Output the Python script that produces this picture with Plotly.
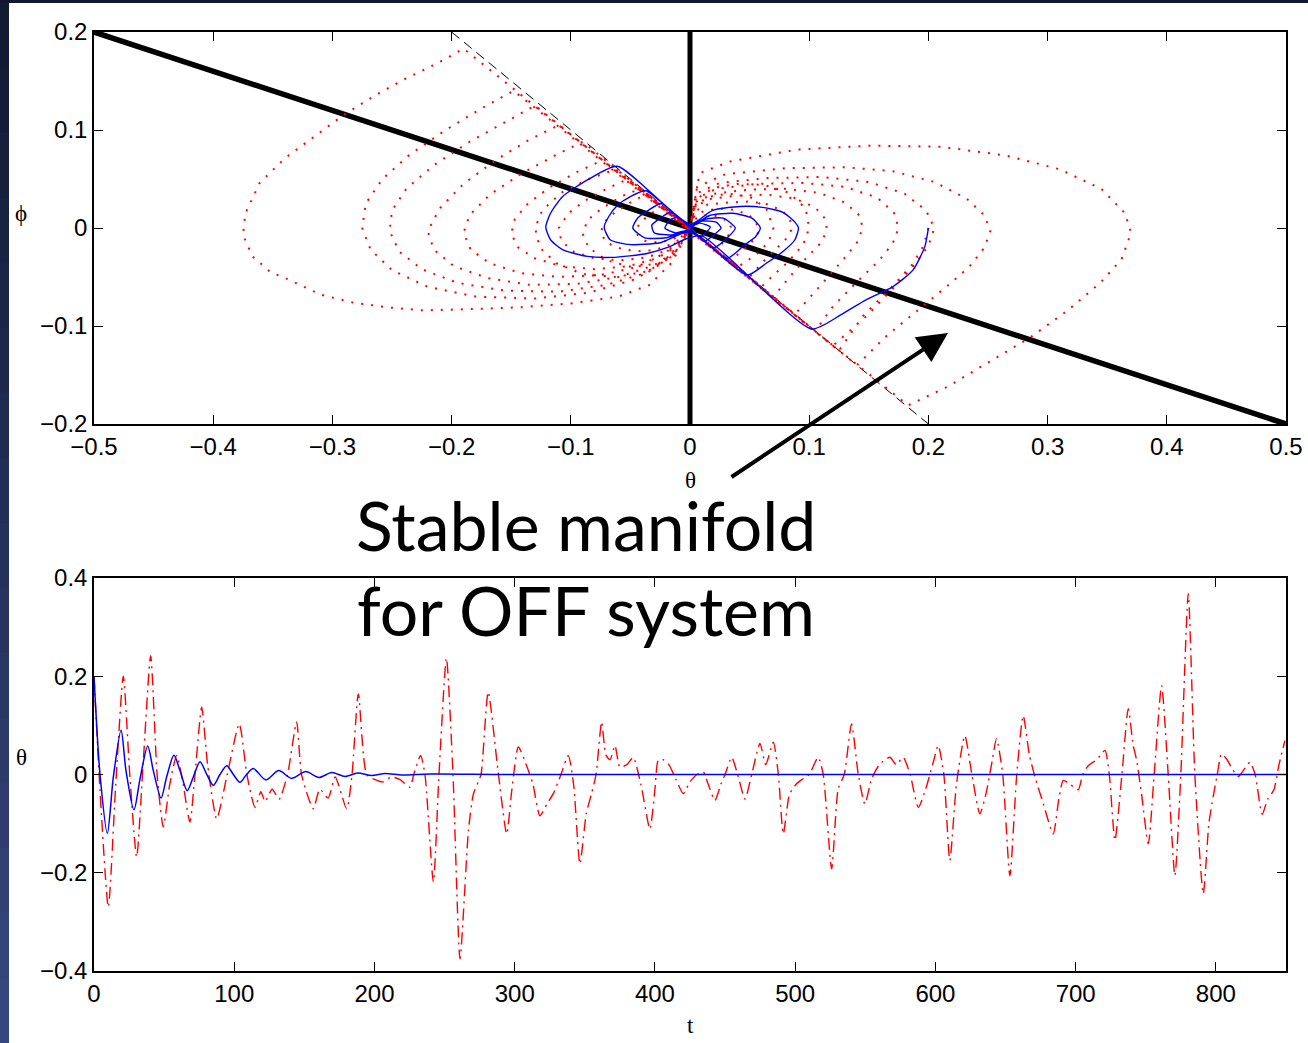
import plotly.graph_objects as go

# ---------------- top panel: phase plane ----------------
manifold_theta = [-0.5, 0.5]
manifold_phi = [0.2, -0.2]
vert_theta = [0.0, 0.0]
vert_phi = [-0.2, 0.2]
switch_theta = [-0.2, 0.2]
switch_phi = [0.2, -0.2]

# red (dotted) trajectory, read loop by loop
red_start_t = [0.2, 0.196, 0.186, 0.168, 0.145, 0.125]
red_start_p = [0.0, -0.018, -0.038, -0.062, -0.09, -0.125]
LA_t = [-0.19, -0.212, -0.241, -0.266, -0.291, -0.316, -0.34, -0.361, -0.373, -0.375, -0.367, -0.352, -0.336, -0.31, -0.283, -0.254, -0.224, -0.19, -0.143, -0.1, -0.06, -0.034, -0.015, 0.0]
LA_p = [0.183, 0.168, 0.151, 0.134, 0.115, 0.093, 0.071, 0.046, 0.015, -0.007, -0.029, -0.045, -0.053, -0.068, -0.076, -0.081, -0.084, -0.083, -0.081, -0.077, -0.07, -0.058, -0.035, 0.0]
RA_t = [0.0, 0.008, 0.034, 0.09, 0.15, 0.21, 0.265, 0.31, 0.345, 0.365, 0.37, 0.362, 0.345, 0.317, 0.285, 0.25, 0.216, 0.183]
RA_p = [0.0, 0.056, 0.068, 0.08, 0.084, 0.083, 0.074, 0.06, 0.04, 0.015, -0.005, -0.032, -0.055, -0.084, -0.112, -0.137, -0.162, -0.181]
LB_t = [-0.148, -0.175, -0.205, -0.235, -0.258, -0.272, -0.275, -0.268, -0.25, -0.22, -0.18, -0.13, -0.085, -0.045, -0.018, 0.0]
LB_p = [0.14, 0.122, 0.1, 0.075, 0.05, 0.025, 0.0, -0.022, -0.043, -0.06, -0.07, -0.072, -0.066, -0.052, -0.03, 0.0]
RB_t = [0.0, 0.006, 0.03, 0.08, 0.13, 0.17, 0.205, 0.232, 0.247, 0.252, 0.247, 0.234, 0.215, 0.19, 0.165, 0.14]
RB_p = [0.0, 0.042, 0.055, 0.061, 0.062, 0.058, 0.047, 0.03, 0.013, -0.003, -0.02, -0.04, -0.06, -0.085, -0.11, -0.14]
LC_t = [-0.13, -0.155, -0.185, -0.215, -0.238, -0.25, -0.252, -0.244, -0.225, -0.195, -0.155, -0.11, -0.07, -0.035, -0.012, 0.0]
LC_p = [0.125, 0.108, 0.088, 0.064, 0.04, 0.018, -0.003, -0.024, -0.042, -0.056, -0.064, -0.065, -0.058, -0.045, -0.026, 0.0]
RC_t = [0.0, 0.005, 0.025, 0.065, 0.11, 0.15, 0.18, 0.198, 0.205, 0.2, 0.188, 0.17, 0.148, 0.12]
RC_p = [0.0, 0.035, 0.046, 0.051, 0.052, 0.047, 0.035, 0.018, 0.0, -0.018, -0.038, -0.062, -0.09, -0.12]
LD_t = [-0.11, -0.135, -0.162, -0.19, -0.21, -0.22, -0.215, -0.198, -0.17, -0.135, -0.095, -0.06, -0.03, -0.01, 0.0]
LD_p = [0.105, 0.09, 0.07, 0.045, 0.02, -0.003, -0.022, -0.039, -0.051, -0.058, -0.057, -0.05, -0.038, -0.022, 0.0]
RD_t = [0.0, 0.005, 0.022, 0.055, 0.095, 0.13, 0.157, 0.171, 0.175, 0.17, 0.158, 0.14, 0.12, 0.105]
RD_p = [0.0, 0.03, 0.04, 0.045, 0.046, 0.042, 0.031, 0.016, 0.0, -0.016, -0.034, -0.055, -0.08, -0.105]
LE_t = [-0.09, -0.115, -0.142, -0.168, -0.185, -0.19, -0.184, -0.168, -0.142, -0.11, -0.075, -0.045, -0.02, 0.0]
LE_p = [0.088, 0.073, 0.055, 0.034, 0.013, -0.005, -0.022, -0.036, -0.046, -0.05, -0.048, -0.04, -0.025, 0.0]
RE_t = [0.0, 0.004, 0.02, 0.048, 0.08, 0.108, 0.13, 0.142, 0.145, 0.14, 0.128, 0.11, 0.088]
RE_p = [0.0, 0.026, 0.035, 0.039, 0.04, 0.036, 0.026, 0.013, 0.0, -0.015, -0.033, -0.058, -0.088]
LF_t = [-0.072, -0.095, -0.117, -0.136, -0.147, -0.15, -0.144, -0.13, -0.108, -0.08, -0.052, -0.028, -0.01, 0.0]
LF_p = [0.07, 0.057, 0.042, 0.025, 0.009, -0.006, -0.02, -0.031, -0.039, -0.042, -0.039, -0.031, -0.018, 0.0]
RF_t = [0.0, 0.004, 0.018, 0.04, 0.065, 0.088, 0.105, 0.113, 0.115, 0.11, 0.098, 0.085, 0.07]
RF_p = [0.0, 0.022, 0.03, 0.033, 0.034, 0.03, 0.021, 0.01, -0.002, -0.015, -0.03, -0.048, -0.07]
LJ_t = [-0.062, -0.085, -0.108, -0.124, -0.13, -0.126, -0.112, -0.09, -0.062, -0.035, -0.014, 0.0]
LJ_p = [0.06, 0.05, 0.036, 0.018, 0.0, -0.02, -0.036, -0.047, -0.05, -0.044, -0.028, 0.0]
RJ_t = [0.0, 0.006, 0.02, 0.04, 0.062, 0.083, 0.097, 0.1, 0.095, 0.082, 0.07, 0.06]
RJ_p = [0.0, 0.03, 0.041, 0.045, 0.044, 0.036, 0.02, 0.0, -0.017, -0.035, -0.048, -0.06]
LG_t = [-0.052, -0.07, -0.088, -0.102, -0.11, -0.108, -0.098, -0.08, -0.058, -0.036, -0.018, -0.006, 0.0]
LG_p = [0.05, 0.04, 0.028, 0.015, 0.0, -0.013, -0.024, -0.031, -0.033, -0.03, -0.022, -0.012, 0.0]
RG_t = [0.0, 0.004, 0.015, 0.032, 0.05, 0.066, 0.078, 0.084, 0.085, 0.08, 0.07, 0.06, 0.05]
RG_p = [0.0, 0.017, 0.024, 0.026, 0.027, 0.024, 0.017, 0.008, -0.002, -0.012, -0.024, -0.036, -0.05]
LK_t = [-0.042, -0.058, -0.074, -0.086, -0.09, -0.085, -0.07, -0.048, -0.026, -0.01, 0.0]
LK_p = [0.04, 0.032, 0.02, 0.008, -0.006, -0.02, -0.033, -0.04, -0.036, -0.022, 0.0]
RK_t = [0.0, 0.005, 0.016, 0.032, 0.05, 0.064, 0.07, 0.066, 0.056, 0.046, 0.04]
RK_p = [0.0, 0.024, 0.032, 0.035, 0.032, 0.02, 0.0, -0.014, -0.027, -0.035, -0.04]
LH_t = [-0.036, -0.05, -0.063, -0.072, -0.075, -0.07, -0.056, -0.038, -0.022, -0.009, 0.0]
LH_p = [0.035, 0.026, 0.016, 0.006, -0.005, -0.015, -0.022, -0.024, -0.02, -0.012, 0.0]
RH_t = [0.0, 0.004, 0.013, 0.026, 0.04, 0.052, 0.058, 0.056, 0.048, 0.04, 0.035]
RH_p = [0.0, 0.013, 0.018, 0.02, 0.018, 0.011, 0.0, -0.009, -0.019, -0.027, -0.035]
LI_t = [-0.022, -0.034, -0.043, -0.045, -0.038, -0.025, -0.012, 0.0]
LI_p = [0.022, 0.014, 0.004, -0.006, -0.013, -0.015, -0.01, 0.0]
RI_t = [0.0, 0.004, 0.012, 0.024, 0.033, 0.035, 0.03, 0.022]
RI_p = [0.0, 0.009, 0.013, 0.012, 0.006, -0.002, -0.012, -0.022]

red_loops_t = [red_start_t, LA_t, RA_t, LB_t, RB_t, LC_t, RC_t, LD_t, RD_t, LE_t, RE_t, LF_t, RF_t,
               LJ_t, RJ_t, LG_t, RG_t, LK_t, RK_t, LH_t, RH_t, LI_t, RI_t]
red_loops_p = [red_start_p, LA_p, RA_p, LB_p, RB_p, LC_p, RC_p, LD_p, RD_p, LE_p, RE_p, LF_p, RF_p,
               LJ_p, RJ_p, LG_p, RG_p, LK_p, RK_p, LH_p, RH_p, LI_p, RI_p]
red_theta = [v for seg in red_loops_t for v in seg]
red_phi = [v for seg in red_loops_p for v in seg]

# blue (solid) trajectory
blue_theta = [0.2, 0.197, 0.187, 0.170, 0.148, 0.126, 0.102,
              0.01, -0.003, -0.017, -0.036, -0.065, -0.086, -0.107, -0.117, -0.121, -0.117, -0.107, -0.086, -0.061,
              0.0, 0.019, 0.042, 0.061, 0.078, 0.088, 0.091, 0.088, 0.078, 0.064, 0.048,
              0.0, -0.025, -0.05, -0.067, -0.072, -0.068, -0.061, -0.05, -0.037,
              0.0, 0.017, 0.036, 0.052, 0.059, 0.055, 0.046, 0.031,
              0.0, -0.02, -0.038, -0.048, -0.044, -0.035, -0.024,
              0.0, 0.013, 0.028, 0.038, 0.033, 0.02,
              0.0, -0.015, -0.03, -0.032, -0.025, -0.016,
              0.0, 0.01, 0.022, 0.026, 0.02, 0.013,
              0.0, -0.012, -0.021, -0.017, -0.01,
              0.0, 0.008, 0.017, 0.012, 0.008, 0.0]
blue_phi = [0.0, -0.019, -0.043, -0.060, -0.073, -0.089, -0.103,
            -0.008, -0.011, -0.019, -0.026, -0.03, -0.029, -0.022, -0.012, 0.001, 0.015, 0.032, 0.049, 0.063,
            0.004, 0.018, 0.022, 0.021, 0.016, 0.006, 0.0, -0.012, -0.024, -0.036, -0.048,
            -0.004, -0.015, -0.017, -0.012, 0.001, 0.012, 0.023, 0.032, 0.038,
            0.003, 0.013, 0.015, 0.01, 0.0, -0.009, -0.017, -0.031,
            -0.003, -0.01, -0.01, 0.0, 0.01, 0.018, 0.025,
            0.002, 0.009, 0.01, 0.0, -0.008, -0.02,
            -0.002, -0.007, -0.005, 0.003, 0.01, 0.016,
            0.002, 0.007, 0.006, 0.0, -0.007, -0.013,
            -0.002, -0.005, 0.0, 0.008, 0.011,
            0.001, 0.005, 0.001, -0.006, -0.009, 0.0]

# ---------------- bottom panel: time series ----------------
blue_t = [0, 4.3, 9.5, 13.8, 19.3, 22.8, 28.5, 32.8, 38.3, 42.3, 47.8, 51.8, 57, 61.3, 66.5, 70.8, 75.6, 80.3,
          85.1, 89.8, 94.6, 99.4, 104.1, 108.8, 113.6, 122.6, 131.7, 141, 151, 160.4, 169.5, 179, 188, 198,
          207.5, 220, 240, 300, 850]
blue_y = [0.2, 0.0, -0.12, -0.005, 0.09, 0.008, -0.072, -0.009, 0.058, 0.008, -0.048, -0.005, 0.039, 0.008,
          -0.033, -0.005, 0.026, 0.001, -0.022, 0.0, 0.018, 0.0, -0.016, 0.0, 0.012, -0.011, 0.008, -0.008,
          0.006, -0.006, 0.004, -0.004, 0.003, -0.002, 0.002, -0.001, 0.001, 0.0, 0.0]

red_t = [0, 4.3, 10.2, 15.5, 20.9, 25.5, 30.4, 35, 40.4, 45, 49.4, 54, 59, 63, 68.4, 72, 76.8, 81, 87.5, 95,
         103.6, 109, 114.8, 119, 122, 127, 132, 138, 144.5, 148, 156.4, 161, 167, 172, 180.2, 184, 188.5,
         194.4, 200, 206, 212, 218, 225.3, 228, 232.9, 236, 242, 246, 251.3, 256, 261, 267, 270.5, 274, 276,
         281.1, 288, 294.3, 298, 302.6, 308.5, 313, 318, 323, 327.5, 333, 338.2, 342, 346.5, 351, 354.8,
         358, 362, 365, 368, 371.5, 375, 380, 384.5, 390, 396.4, 400, 402.4, 406, 410, 415, 420.2, 425,
         430, 434.5, 438, 442.8, 447, 450, 454.7, 459, 464.2, 469, 474.9, 479, 484.4, 488, 491.5, 496,
         501, 505, 510, 516.4, 520, 526, 530.7, 535, 540.2, 545, 549.7, 554.5, 560, 567.6, 572, 577, 582,
         587.8, 593, 598, 602, 606, 610.3, 615, 621, 626, 631.7, 636, 640, 643.6, 648, 653.1, 658, 662.6,
         667, 671, 677, 684, 688, 691.2, 696, 701.9, 705, 709, 715, 720.9, 724, 728, 733, 737.5, 741,
         743.5, 747, 751.8, 756, 761.3, 766, 770.8, 775, 780.3, 785, 791, 795, 798, 801, 804, 808, 812,
         816, 820, 824.3, 828, 833, 837, 841.4, 845, 849.2]
red_y = [0.2, -0.033, -0.27, -0.02, 0.2, 0.0, -0.168, 0.02, 0.242, 0.0, -0.107, -0.02, 0.039, -0.01, -0.097,
         0.0, 0.137, 0.02, -0.09, 0.0, 0.103, 0.0, -0.067, -0.035, -0.055, -0.03, -0.05, 0.0, 0.107, 0.0,
         -0.07, -0.03, -0.048, -0.005, -0.07, 0.0, 0.164, 0.0, -0.01, -0.015, -0.005, -0.01, -0.026, 0.0,
         0.039, 0.0, -0.219, 0.0, 0.237, 0.0, -0.375, -0.114, -0.04, -0.015, 0.0, 0.168, 0.01, -0.121,
         -0.03, 0.056, 0.018, -0.02, -0.084, -0.06, -0.039, 0.0, 0.039, -0.02, -0.182, -0.08, -0.039, 0.0,
         0.107, 0.04, 0.03, 0.059, 0.015, 0.02, 0.035, -0.02, -0.111, -0.03, 0.029, 0.03, 0.02, -0.01,
         -0.039, -0.015, 0.0, 0.005, -0.02, -0.053, -0.02, 0.0, 0.035, 0.0, -0.05, 0.0, 0.063, 0.02, 0.066,
         0.0, -0.121, -0.04, -0.019, -0.01, 0.0, 0.035, 0.0, -0.192, -0.029, 0.0, 0.103, 0.0, -0.06, -0.009,
         0.02, 0.035, 0.02, 0.035, 0.0, -0.067, -0.03, 0.02, 0.059, 0.0, -0.175, -0.02, 0.079, 0.0, -0.08,
         -0.04, 0.02, 0.073, 0.0, -0.206, 0.0, 0.12, 0.04, -0.005, -0.06, -0.121, -0.05, -0.012, -0.02,
         -0.031, 0.0, 0.018, 0.03, 0.049, 0.0, -0.134, 0.0, 0.134, 0.06, 0.029, -0.04, -0.141, 0.0, 0.181,
         0.0, -0.206, 0.0, 0.368, 0.0, -0.243, -0.1, -0.046, 0.0, 0.042, 0.03, 0.01, -0.004, 0.01, 0.025,
         0.0, -0.081, -0.05, -0.031, 0.02, 0.069]

top_xticks = [-0.5, -0.4, -0.3, -0.2, -0.1, 0, 0.1, 0.2, 0.3, 0.4, 0.5]
top_xlabels = ["\u22120.5", "\u22120.4", "\u22120.3", "\u22120.2", "\u22120.1", "0", "0.1", "0.2", "0.3", "0.4", "0.5"]
top_yticks = [-0.2, -0.1, 0, 0.1, 0.2]
top_ylabels = ["\u22120.2", "\u22120.1", "0", "0.1", "0.2"]
bot_xticks = [0, 100, 200, 300, 400, 500, 600, 700, 800]
bot_xlabels = ["0", "100", "200", "300", "400", "500", "600", "700", "800"]
bot_yticks = [-0.4, -0.2, 0, 0.2, 0.4]
bot_ylabels = ["\u22120.4", "\u22120.2", "0", "0.2", "0.4"]

fig = go.Figure()

# top panel traces
fig.add_trace(go.Scatter(x=switch_theta, y=switch_phi, mode="lines",
                         line=dict(color="black", width=1, dash="10px,6px"), xaxis="x", yaxis="y"))
fig.add_trace(go.Scatter(x=manifold_theta, y=manifold_phi, mode="lines",
                         line=dict(color="black", width=5.5), xaxis="x", yaxis="y"))
fig.add_trace(go.Scatter(x=vert_theta, y=vert_phi, mode="lines",
                         line=dict(color="black", width=5), xaxis="x", yaxis="y"))
fig.add_trace(go.Scatter(x=red_theta, y=red_phi, mode="lines",
                         line=dict(color="#ff0000", width=2, dash="2px,8px"), xaxis="x", yaxis="y"))
fig.add_trace(go.Scatter(x=blue_theta, y=blue_phi, mode="lines",
                         line=dict(color="#0000ff", width=1.4, shape="spline", smoothing=0.6), xaxis="x", yaxis="y"))

# bottom panel traces
fig.add_trace(go.Scatter(x=red_t, y=red_y, mode="lines",
                         line=dict(color="#ff0000", width=1.4, dash="12px,5px,2px,5px", shape="spline", smoothing=0.6),
                         xaxis="x2", yaxis="y2"))
fig.add_trace(go.Scatter(x=blue_t, y=blue_y, mode="lines",
                         line=dict(color="#0000ff", width=1.5, shape="spline", smoothing=0.8),
                         xaxis="x2", yaxis="y2"))

W, H = 1308, 1043
L, R, T, B = 94, 22, 32, 72
PW, PH = W - L - R, H - T - B


def px(xp):
    return (xp - L) / PW


def py(yp):
    return (H - B - yp) / PH


axis_common = dict(showline=True, linecolor="black", linewidth=1.5, mirror="ticks", ticks="inside",
                   ticklen=9, tickwidth=1, tickcolor="black", showgrid=False, zeroline=False,
                   automargin=False,
                   tickfont=dict(family="Liberation Sans, Arial, sans-serif", size=24, color="black"))

shapes = [dict(type="rect", xref="paper", yref="paper", x0=px(9), x1=px(W + 5), y0=py(H + 5), y1=py(3),
               fillcolor="white", line=dict(width=0), layer="below")]
grad = ["#121a34", "#141c38", "#161f3c", "#182241", "#1b2546", "#1d284b", "#1f2b50", "#222e55",
        "#24315a", "#27345f", "#293764", "#2c3a69", "#2e3d6e", "#314173", "#334478", "#35477c"]
n = len(grad)
for i, c in enumerate(grad):
    shapes.append(dict(type="rect", xref="paper", yref="paper", x0=px(-2), x1=px(9),
                       y0=py(3 + (i + 1) * (H - 3) / n + 1), y1=py(3 + i * (H - 3) / n),
                       fillcolor=c, line=dict(width=0), layer="below"))

serif = "Liberation Serif, Times New Roman, serif"
lab = dict(showarrow=False, xref="paper", yref="paper", xanchor="center", yanchor="middle",
           font=dict(family=serif, size=23, color="black"))
big = dict(showarrow=False, xref="paper", yref="paper", xanchor="center", yanchor="middle",
           font=dict(family="Lato, sans-serif", size=68, color="black"))
annotations = [
    dict(lab, text="\u03d5", x=px(21), y=py(213)),
    dict(lab, text="\u03b8", x=px(690), y=py(480)),
    dict(lab, text="\u03b8", x=px(21), y=py(757)),
    dict(lab, text="t", x=px(690), y=py(1025)),
    dict(big, text="Stable manifold", x=px(586), y=py(524)),
    dict(big, text="for OFF system", x=px(586), y=py(609)),
    dict(text="", xref="paper", yref="paper", x=px(948), y=py(333), ax=730 - 948, ay=478 - 333,
         showarrow=True, arrowhead=2, arrowsize=1.5, arrowwidth=4, arrowcolor="black"),
]

fig.update_layout(
    width=W, height=H, margin=dict(l=L, r=R, t=T, b=B, autoexpand=False),
    paper_bgcolor="#111830", plot_bgcolor="white", showlegend=False,
    shapes=shapes, annotations=annotations,
    xaxis=dict(axis_common, domain=[0, 1], range=[-0.5, 0.5], anchor="y",
               tickvals=top_xticks, ticktext=top_xlabels),
    yaxis=dict(axis_common, domain=[py(424), 1], range=[-0.2, 0.2], anchor="x",
               tickvals=top_yticks, ticktext=top_ylabels),
    xaxis2=dict(axis_common, domain=[0, 1], range=[0, 850], anchor="y2",
                tickvals=bot_xticks, ticktext=bot_xlabels),
    yaxis2=dict(axis_common, domain=[0, py(578)], range=[-0.4, 0.4], anchor="x2",
                tickvals=bot_yticks, ticktext=bot_ylabels),
)

fig.write_html("out.html")
